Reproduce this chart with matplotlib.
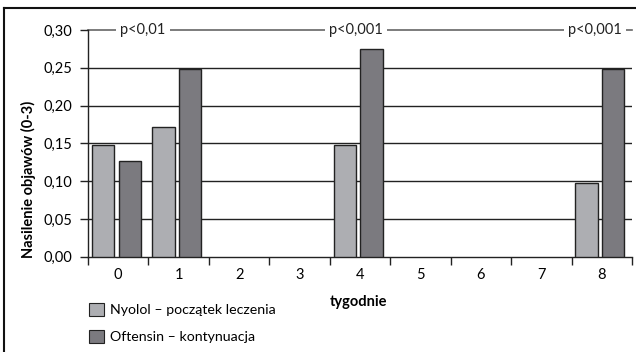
import matplotlib
matplotlib.use("Agg")
import matplotlib.pyplot as plt
from matplotlib.lines import Line2D
from matplotlib.patches import Patch
import numpy as np

weeks = ["0", "1", "2", "3", "4", "5", "6", "7", "8"]
nyolol = [0.148, 0.172, 0, 0, 0.148, 0, 0, 0, 0.098]
oftensin = [0.127, 0.248, 0, 0, 0.275, 0, 0, 0, 0.248]
series_labels = ["Nyolol – początek leczenia", "Oftensin – kontynuacja"]
y_ticks = [0.00, 0.05, 0.10, 0.15, 0.20, 0.25, 0.30]
y_tick_labels = ["0,00", "0,05", "0,10", "0,15", "0,20", "0,25", "0,30"]
p_labels = ["p<0,01", "p<0,001", "p<0,001"]
p_pos = [0.41, 3.94, 7.89]

plt.rcParams['font.family'] = ['Lato', 'DejaVu Sans']
FS = 10.5

fig = plt.figure(figsize=(6.36, 3.52), dpi=100)
W, H = 636, 352
ax = fig.add_axes([88 / W, 1 - 256.7 / H, (632 - 88) / W, (256.7 - 30) / H])

light = "#adaeb2"
dark = "#7b7a7f"
x = np.arange(len(weeks))
bw = 0.37
off = 0.22
shift = -0.03
mask_n = [v > 0 for v in nyolol]
mask_o = [v > 0 for v in oftensin]
ax.bar(x[mask_n] - off + shift, np.array(nyolol)[mask_n], width=bw, color=light,
       edgecolor="#222222", linewidth=1.0, zorder=3)
ax.bar(x[mask_o] + off + shift, np.array(oftensin)[mask_o], width=bw, color=dark,
       edgecolor="#222222", linewidth=1.0, zorder=3)

ax.set_xlim(-0.5, 8.5)
ax.set_ylim(0, 0.30)
for yv in y_ticks[1:-1]:
    ax.axhline(yv, color="#222222", linewidth=1.0, zorder=1)
ax.axhline(0.30, color="#666666", linewidth=1.2, zorder=1, clip_on=False)

for lab, px in zip(p_labels, p_pos):
    ax.text(px, 0.30, lab, ha="center", va="center", fontsize=FS,
            color="#222222", zorder=4,
            bbox=dict(facecolor="white", edgecolor="none", pad=3))

ax.set_yticks(y_ticks)
ax.set_yticklabels(y_tick_labels, fontsize=FS)
ax.set_xticks(np.arange(-0.5, 8.6, 1.0))
ax.set_xticklabels([])
ax.set_xticks(x, minor=True)
ax.set_xticklabels(weeks, minor=True, fontsize=FS)
ax.tick_params(axis="x", which="minor", length=0, pad=8)
ax.tick_params(axis="x", which="major", length=6, direction="out", width=1.0, color="#222222")
ax.tick_params(axis="y", length=6, direction="out", width=1.0, color="#222222", pad=5)

for s in ["top", "right"]:
    ax.spines[s].set_visible(False)
ax.spines["left"].set_color("#222222")
ax.spines["bottom"].set_color("#222222")
ax.spines["left"].set_linewidth(1.0)
ax.spines["bottom"].set_linewidth(1.0)

fig.text(28 / W, 1 - 258 / H, "Nasilenie objawów (0-3)", rotation=90,
         ha="center", va="bottom", fontsize=FS, fontweight="bold")
fig.text(359 / W, 1 - 302 / H, "tygodnie", ha="center", va="center",
         fontsize=FS, fontweight="bold")

handles = [Patch(facecolor=light, edgecolor="#222222", linewidth=0.8),
           Patch(facecolor=dark, edgecolor="#222222", linewidth=0.8)]
fig.legend(handles, series_labels, loc="upper left",
           bbox_to_anchor=(89 / W, 1 - 303 / H), frameon=False, fontsize=10.2,
           handlelength=1.05, handleheight=1.05, handletextpad=0.45,
           labelspacing=0.95, borderaxespad=0, borderpad=0)

fig.add_artist(Line2D([4 / W, 1], [1 - 8 / H, 1 - 8 / H], transform=fig.transFigure,
                      color="#111111", linewidth=1.5))
fig.add_artist(Line2D([4 / W, 4 / W], [0, 1 - 8 / H], transform=fig.transFigure,
                      color="#111111", linewidth=1.5))

fig.savefig("out.png", dpi=100)
